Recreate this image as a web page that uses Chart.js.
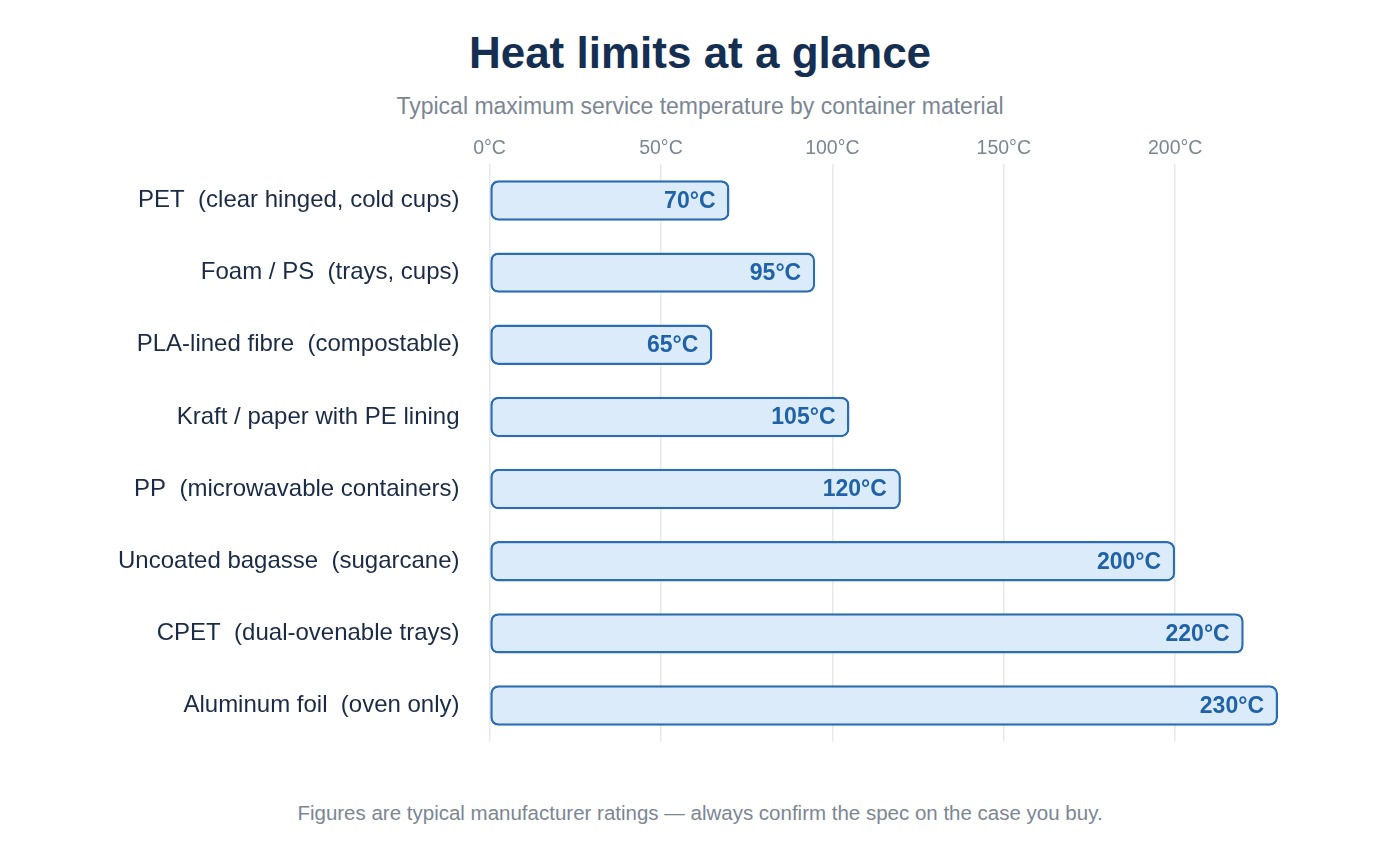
<!DOCTYPE html>
<html>
<head>
<meta charset="utf-8">
<script src="https://cdn.jsdelivr.net/npm/chart.js@4"></script>
<style>
  body { margin: 0; width: 1400px; height: 860px; background: #fff; font-family: Arial, "Liberation Sans", sans-serif; position: relative; overflow: hidden; }
  #title { position: absolute; top: 28px; width: 100%; text-align: center; font-size: 44px; font-weight: bold; color: #142f52; }
  #sub { position: absolute; top: 93px; width: 100%; text-align: center; font-size: 23px; color: #7b8694; }
  #foot { position: absolute; top: 801px; width: 100%; text-align: center; font-size: 20.5px; color: #7b8694; }
  #wrap { position: absolute; left: 0; top: 128px; width: 1400px; height: 650px; }
</style>
</head>
<body>
<div id="title">Heat limits at a glance</div>
<div id="sub">Typical maximum service temperature by container material</div>
<div id="wrap"><canvas id="c"></canvas></div>
<div id="foot">Figures are typical manufacturer ratings — always confirm the spec on the case you buy.</div>
<script>
const materials = [
  "PET  (clear hinged, cold cups)",
  "Foam / PS  (trays, cups)",
  "PLA-lined fibre  (compostable)",
  "Kraft / paper with PE lining",
  "PP  (microwavable containers)",
  "Uncoated bagasse  (sugarcane)",
  "CPET  (dual-ovenable trays)",
  "Aluminum foil  (oven only)"
];
const maxTemps = [70, 95, 65, 105, 120, 200, 220, 230];
const tickValues = [0, 50, 100, 150, 200];

// value labels inside bar end
const valueLabels = {
  id: "valueLabels",
  afterDatasetsDraw(chart) {
    const ctx = chart.ctx;
    const meta = chart.getDatasetMeta(0);
    ctx.save();
    ctx.font = "bold 23px Arial, 'Liberation Sans', sans-serif";
    ctx.fillStyle = "#1f62a8";
    ctx.textAlign = "right";
    ctx.textBaseline = "middle";
    meta.data.forEach((bar, i) => {
      ctx.fillText(maxTemps[i] + "°C", bar.x - 14, bar.y + 1);
    });
    ctx.restore();
  }
};

new Chart(document.getElementById("c"), {
  type: "bar",
  data: {
    labels: materials,
    datasets: [{
      data: maxTemps,
      backgroundColor: "#dcebf9",
      borderColor: "#2a6db3",
      borderWidth: 2.5,
      borderRadius: 8,
      borderSkipped: false,
      barPercentage: 0.56,
      categoryPercentage: 1
    }]
  },
  options: {
    indexAxis: "y",
    responsive: true,
    maintainAspectRatio: false,
    animation: false,
    layout: { padding: { left: 96, right: 122, top: 0, bottom: 0 } },
    plugins: { legend: { display: false }, tooltip: { enabled: false } },
    scales: {
      x: {
        position: "top",
        min: 0, max: 230,
        afterBuildTicks: axis => { axis.ticks = tickValues.map(v => ({ value: v })); },
        ticks: { color: "#7b8694", font: { size: 19.5 }, callback: v => v + "°C", padding: 4 },
        grid: { color: "#e6e8ec", drawTicks: false, lineWidth: 1.5 },
        border: { display: false }
      },
      y: {
        ticks: { color: "#1a2b45", font: { size: 24 }, padding: 22 },
        grid: { display: false },
        border: { display: false }
      }
    }
  },
  plugins: [valueLabels]
});
</script>
</body>
</html>
